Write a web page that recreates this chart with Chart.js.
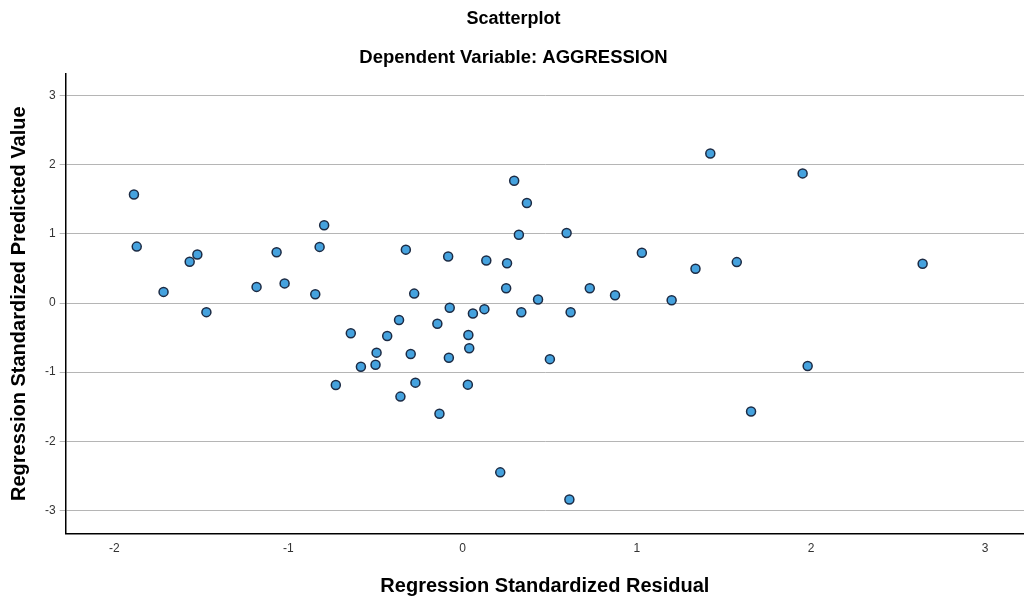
<!DOCTYPE html>
<html>
<head>
<meta charset="utf-8">
<script src="https://cdn.jsdelivr.net/npm/chart.js@4"></script>
<style>
  html, body { margin: 0; padding: 0; background: #fff; }
  #wrap { width: 1024px; height: 598px; position: relative; }
</style>
</head>
<body>
<div id="wrap"><canvas id="scatter"></canvas></div>
<script>
// standardized residual (x) and standardized predicted value (y)
const residuals = [
  -1.887, -1.871, -1.717, -1.567, -1.523, -1.471, -1.183, -1.068, -1.022, -0.846,
  -0.821, -0.795, -0.326, -0.278, -0.642, -0.365, -0.433, -0.145, -0.494, -0.298,
  -0.584, -0.500, -0.728, -0.271, -0.357, -0.133, 1.422, 1.952, 0.296, 0.369,
  0.323, 0.597, -0.083, 0.136, 0.255, 1.029, 1.337, 1.574, 2.641, 0.250,
  0.730, 0.875, 0.433, 1.200, -0.074, 0.059, 0.125, 0.337, 0.620, 0.033,
  0.038, -0.079, 0.501, 1.981, 0.030, 1.656, 0.216, 0.613
];
const predicted = [
  1.569, 0.816, 0.161, 0.596, 0.701, -0.132, 0.233, 0.735, 0.284, 0.126,
  0.812, 1.124, 0.772, 0.136, -0.438, -0.247, -0.478, -0.300, -0.718, -0.738,
  -0.922, -0.894, -1.185, -1.152, -1.354, -1.602, 2.162, 1.875, 1.770, 1.448,
  0.988, 1.013, 0.672, 0.614, 0.576, 0.726, 0.496, 0.592, 0.568, 0.213,
  0.213, 0.112, 0.050, 0.040, -0.069, -0.151, -0.089, -0.133, -0.133, -0.464,
  -0.655, -0.793, -0.812, -0.912, -1.181, -1.569, -2.450, -2.842
];
const xTicks = [-2, -1, 0, 1, 2, 3];
const yTicks = [-3, -2, -1, 0, 1, 2, 3];

const points = residuals.map((x, i) => ({ x: x, y: predicted[i] }));
const font = "Arial, 'Liberation Sans', sans-serif";

let config = {
  type: "scatter",
  data: {
    datasets: [
      {
        data: points,
        backgroundColor: "#45a2de",
        borderColor: "#1c2b44",
        borderWidth: 1.5,
        pointRadius: 4.5,
        clip: false,
      },
    ],
  },
  options: {
    responsive: false,
    animation: false,
    layout: { autoPadding: false, padding: { left: 3, right: 0, top: 0, bottom: 0 } },
    plugins: {
      legend: { display: false },
      tooltip: { enabled: false },
      title: {
        display: true,
        text: "Scatterplot",
        color: "#000",
        font: { family: font, size: 18, weight: "bold" },
        padding: { top: 8, bottom: 17 },
      },
      subtitle: {
        display: true,
        text: "Dependent Variable: AGGRESSION",
        color: "#000",
        font: { family: font, size: 18.5, weight: "bold" },
        padding: { top: 0, bottom: 5 },
      },
    },
    scales: {
      x: {
        type: "linear",
        min: -2.279,
        max: 3.223,
        afterBuildTicks: (axis) => { axis.ticks = xTicks.map(v => ({ value: v })); },
        grid: { display: false, drawTicks: false },
        border: { display: true, color: "#000", width: 1.5 },
        ticks: { color: "#333", font: { family: font, size: 12 }, padding: 8 },
        title: {
          display: true,
          text: "Regression Standardized Residual",
          color: "#000",
          font: { family: font, size: 20, weight: "bold" },
          padding: { top: 10, bottom: 0 },
        },
      },
      y: {
        type: "linear",
        min: -3.336,
        max: 3.316,
        afterBuildTicks: (axis) => { axis.ticks = yTicks.map(v => ({ value: v })); },
        grid: { color: "#b5b5b5", lineWidth: 1, tickLength: 6, tickColor: "#b5b5b5" },
        border: { display: true, color: "#000", width: 1.5 },
        ticks: { color: "#333", font: { family: font, size: 12 }, padding: 4 },
        title: {
          display: true,
          text: "Regression Standardized Predicted Value",
          color: "#000",
          font: { family: font, size: 20, weight: "bold" },
          padding: { top: 4, bottom: 10 },
        },
      },
    },
  },
};

const canvas = document.getElementById("scatter");
canvas.width = 1024;
canvas.height = 598;
let ctx = canvas.getContext("2d");
window.myScatter = new Chart(ctx, config);
</script>
</body>
</html>
